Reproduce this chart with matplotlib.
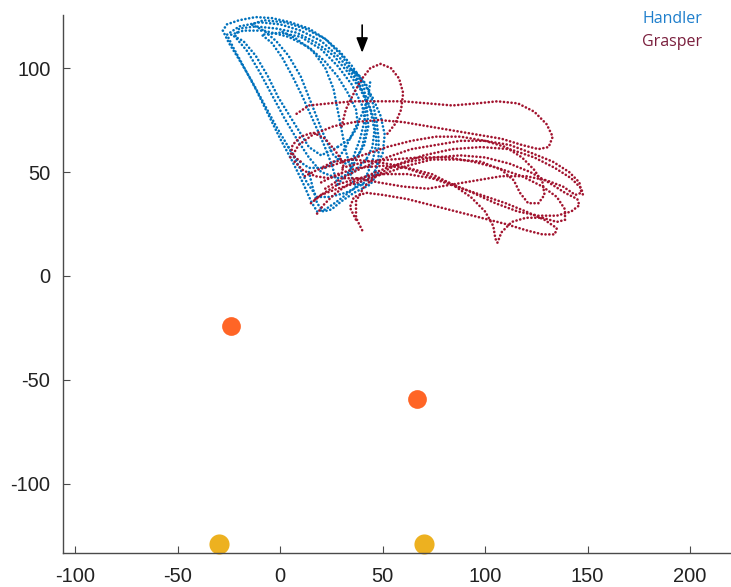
import matplotlib
matplotlib.use("Agg")
import matplotlib.pyplot as plt

plt.rcParams['axes.unicode_minus'] = False

# ---------------- data ----------------
handler_loops = [
    [(46,50),(40,44),(32,40),(24,38),(18,38),(13,45),(9,53),(4,62),(-2,72),(-8,83),(-14,94),(-20,104),
     (-25,112),(-28,118),(-26,121),(-20,123),(-12,124.5),(-4,124),(5,122),(14,119),(22,114),(29,108),
     (35,101),(40,94),(45,86),(49,77),(51,68),(50,59),(46,50)],
    [(42,56),(36,50),(28,47),(20,50),(14,57),(8,66),(2,76),(-4,87),(-10,98),(-16,108),(-22,115),(-20,119),
     (-12,120),(-2,119),(8,117),(18,112),(26,106),(33,98),(39,90),(44,80),(46,70),(45,62),(42,56)],
    [(28,44),(25,54),(21,64),(16,75),(11,86),(6,96),(1,105),(-4,112),(-9,116),(0,117),(10,115),(20,109),
     (28,101),(35,92),(40,82),(42,72),(40,62),(35,52),(28,44)],
    [(42,48),(36,42),(28,36),(22,32),(18,31),(15,36),(11,45),(6,55),(0,66),(-6,78),(-12,90),(-18,101),
     (-23,110),(-26,116),(-20,120),(-10,122),(0,121),(10,118),(20,113),(29,105),(36,96),(42,86),(46,75),
     (47,64),(45,55),(42,48)],
    [(38,58),(32,54),(26,58),(22,66),(18,76),(14,86),(10,96),(4,106),(-2,113),(-8,118),(-14,121),
     (-8,123),(2,122),(12,119),(22,114),(30,106),(37,96),(42,84),(43,72),(41,63),(38,58)],
    [(28,62),(20,58),(14,62),(9,70),(4,78),(-1,86),(-6,96),(-12,106),(-18,113),(-24,116),(-18,118),
     (-8,118),(4,115),(14,110),(22,103),(28,96),(33,88),(37,80),(38,72),(34,66),(28,62)],
    [(46,48),(42,44),(36,44),(34,50),(36,58),(39,66),(41,74),(42,82),(41,90),(38,96),(34,100),(38,97),
     (42,92),(45,84),(47,75),(48,66),(48,57),(46,48)],
    [(4,62),(8,56),(14,52),(22,52),(28,56),(32,62),(36,70),(40,78),(43,86),(44,94)],
    [(14,50),(16,42),(18,35),(21,31),(25,32),(30,36),(36,40),(44,44),(48,50)],
    [(35,50),(32,60),(30,70),(28,80),(26,90),(22,100),(16,108),(8,114),(0,118)],
]

grasper_loops = [
    [(18,30),(21,34),(26,39),(33,44),(42,48),(52,52),(63,55),(75,57),(88,58),(100,57),(112,54),(122,50),
     (131,45),(139,40),(145,37),(146,34),(142,31),(135,29),(126,29),(116,31),(105,35),(94,40),(82,45),
     (70,49),(58,53),(46,55),(35,56),(26,55),(20,52)],
    [(22,42),(30,47),(40,52),(52,57),(64,61),(76,63),(88,65),(100,65),(112,63),(123,59),(133,55),(141,50),
     (146,45),(147,40),(144,39),(138,43),(130,46),(120,48),(108,48),(96,46),(84,44),(72,42),(60,43),
     (48,45),(38,47),(30,47)],
    [(8,78),(14,82),(24,83),(36,84),(48,84),(60,84),(72,83),(84,82),(96,83),(106,84),(116,83),(124,79),
     (130,73),(133,67),(131,62),(126,61),(118,63),(108,66),(96,68),(84,70),(72,72),(60,74),(48,75),
     (36,74),(26,72),(16,68),(9,63),(6,58),(10,55)],
    [(30,72),(32,80),(36,88),(40,95),(44,100),(49,102),(54,100),(58,95),(60,88),(59,80),(56,73),(52,68)],
    [(20,45),(28,49),(38,52),(50,53),(62,52),(74,49),(84,44),(93,38),(100,31),(104,24),(105,18),(106,16),
     (108,21),(113,26),(120,28),(128,28),(135,26),(139,27),(139,32),(135,38),(128,43),(118,48),(106,52),
     (94,55),(82,57),(68,57),(54,56),(42,55),(30,52)],
    [(15,35),(20,39),(28,44),(38,47),(50,49),(62,49),(74,47),(86,43),(98,39),(110,35),(120,31),(129,27),
     (135,23),(134,20),(128,20),(120,22),(110,25),(98,28),(86,31),(74,34),(62,37),(50,39),(42,40),
     (36,38),(34,33),(37,27)],
    [(5,57),(6,63),(10,67),(16,69),(22,66),(27,60),(31,54),(30,49),(24,47),(17,48),(11,51),(7,55)],
    [(40,22),(37,28),(37,36),(41,43),(48,49),(58,54),(70,58),(84,61),(98,62),(112,61),(124,57),(134,52),
     (142,47),(147,42),(148,38)],
    [(12,48),(18,51),(28,54),(40,58),(52,62),(64,65),(76,67),(88,67),(100,65),(110,62),(118,57),(124,51),
     (128,45),(129,39),(126,35),(121,35),(117,40),(114,46),(108,51),(98,55),(86,56),(74,56),(62,53),
     (50,49),(38,45),(28,42),(20,39),(16,36)],
]

orange_x = [-24, 67]
orange_y = [-24, -59]
yellow_x = [-30, 70]
yellow_y = [-129, -129]

arrow_x = 40
arrow_y_start = 122
arrow_y_end = 106

xticks = [-100, -50, 0, 50, 100, 150, 200]
yticks = [-100, -50, 0, 50, 100]

# ---------------- plot ----------------
fig = plt.figure(figsize=(7.31, 5.87), dpi=100)
ax = fig.add_axes([63/731, 1-553/587, 1-63/731, (553-15)/587])

dot = dict(linestyle=(0, (0.05, 1.4)), linewidth=1.9, dash_capstyle='round', solid_capstyle='round')
for loop in handler_loops:
    xs = [p[0] for p in loop]
    ys = [p[1] for p in loop]
    ax.plot(xs, ys, color='#0072BD', **dot)
for loop in grasper_loops:
    xs = [p[0] for p in loop]
    ys = [p[1] for p in loop]
    ax.plot(xs, ys, color='#A2142F', **dot)

ax.plot(orange_x, orange_y, 'o', color='#FF6526', markersize=13.5, markeredgewidth=0, clip_on=False)
ax.plot(yellow_x, yellow_y, 'o', color='#EDB120', markersize=14.5, markeredgewidth=0, clip_on=False)

ax.annotate('', xy=(arrow_x, arrow_y_end), xytext=(arrow_x, arrow_y_start),
            arrowprops=dict(arrowstyle='-|>,head_length=0.9,head_width=0.35', color='black', lw=1.2))

ax.set_xlim(-106, 220)
ax.set_ylim(-133.2, 125.5)
ax.set_xticks(xticks)
ax.set_yticks(yticks)
for s in ['top', 'right']:
    ax.spines[s].set_visible(False)
for s in ['left', 'bottom']:
    ax.spines[s].set_color('#4a4a4a')
    ax.spines[s].set_linewidth(1.0)
ax.tick_params(direction='in', length=5, color='#4a4a4a', labelsize=14.5,
               labelcolor='#222222')
ax.tick_params(axis='x', pad=10)
ax.tick_params(axis='y', pad=9)
for lab in ax.get_xticklabels() + ax.get_yticklabels():
    lab.set_fontfamily('Liberation Sans')

fig.text(642/731, 1-19/587, 'Handler', color='#1F7FCC', fontsize=11.5, family='Open Sans', va='center')
fig.text(642/731, 1-42/587, 'Grasper', color='#7A1F3D', fontsize=11.5, family='Open Sans', va='center')

fig.savefig('out.png', dpi=100)
